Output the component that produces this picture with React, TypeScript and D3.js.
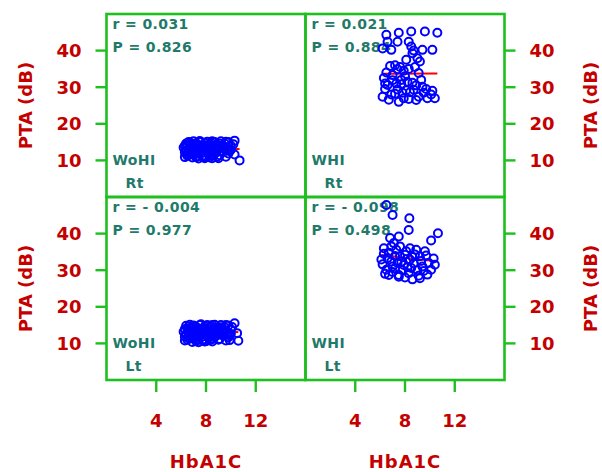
import { useEffect, useRef } from 'react';
import * as d3 from 'd3';

// tick labels
const hba1cTicks = [4, 8, 12];
const ptaTicks = [10, 20, 30, 40];

// [HbA1C, PTA] per panel
const wohiRt: [number, number][] = [
  [6.2, 13.5], [6.3, 12.2], [6.4, 14.6], [6.5, 11.3], [6.6, 13.0], [6.7, 14.9], [6.8, 12.0], [6.9, 10.8],
  [7.0, 13.8], [7.0, 15.2], [7.1, 11.6], [7.2, 12.9], [7.3, 14.3], [7.4, 10.5], [7.5, 12.4], [7.6, 13.6],
  [7.6, 15.0], [7.7, 11.2], [7.8, 14.1], [7.9, 12.7], [8.0, 10.9], [8.0, 13.3], [8.1, 15.1], [8.2, 11.8],
  [8.3, 14.5], [8.4, 12.6], [8.5, 10.6], [8.6, 13.9], [8.7, 15.0], [8.8, 12.1], [8.9, 14.2], [9.0, 13.0],
  [9.1, 11.4], [9.2, 15.2], [9.3, 13.7], [9.4, 12.3], [9.5, 14.6], [9.6, 11.0], [9.7, 13.2], [9.8, 15.0],
  [9.9, 12.5], [10.0, 14.0], [10.3, 15.4], [10.3, 11.6], [10.7, 10.0], [6.5, 14.0], [7.2, 10.9],
  [7.9, 14.8], [8.4, 11.3], [6.9, 12.6], [7.4, 13.9], [9.0, 10.6],
  [6.3, 10.9], [6.4, 12.8], [6.6, 15.0], [6.7, 11.6], [6.8, 13.5], [6.9, 14.3], [7.1, 12.2], [7.2, 14.7],
  [7.3, 11.1], [7.5, 13.0], [7.5, 15.3], [7.7, 12.0], [7.8, 13.2], [7.9, 10.6], [8.1, 12.3], [8.2, 14.0],
  [8.3, 10.8], [8.5, 12.0], [8.5, 15.2], [8.6, 11.4], [8.8, 13.5], [8.9, 11.0], [9.1, 14.6], [9.2, 12.4],
  [9.5, 13.0], [9.6, 15.1], [9.8, 11.9], [10.0, 12.9], [6.6, 11.5], [7.0, 12.5], [7.4, 12.0], [7.8, 11.0],
  [8.2, 13.0], [8.7, 12.8], [9.0, 14.1], [9.4, 14.0], [10.2, 14.4], [6.3, 14.0], [7.1, 13.3], [8.4, 14.8],
];

const whiRt: [number, number][] = [
  [6.5, 44.3], [7.5, 44.9], [8.5, 45.2], [9.6, 45.2], [10.6, 44.9], [6.6, 42.4], [6.2, 40.6], [7.4, 42.4],
  [6.9, 40.2], [8.3, 42.4], [8.5, 41.1], [8.6, 39.3], [9.4, 40.2], [10.2, 40.2], [9.0, 37.9], [9.2, 37.0],
  [8.7, 40.0], [6.8, 35.8], [8.3, 35.0], [9.1, 33.9], [6.3, 32.5], [7.0, 33.3], [7.7, 32.0], [8.0, 33.0],
  [8.6, 31.2], [9.4, 30.1], [6.6, 30.6], [7.4, 29.4], [8.1, 29.2], [6.2, 27.4], [6.7, 26.6], [7.5, 26.0],
  [8.3, 26.8], [9.1, 27.4], [9.8, 27.0], [10.4, 27.0], [10.1, 28.0], [9.5, 28.5], [8.4, 28.6], [7.2, 28.2],
  [6.4, 29.5], [7.7, 30.8], [7.9, 34.5], [7.4, 34.9], [8.7, 29.3], [7.0, 31.9],
  [6.4, 31.0], [6.9, 28.0], [7.3, 31.0], [7.8, 28.5], [8.2, 31.5], [8.9, 30.5], [9.3, 32.0], [9.7, 29.5],
  [10.2, 29.0], [6.5, 34.0], [7.6, 35.5], [8.8, 35.5], [7.9, 27.0], [8.9, 26.5], [7.2, 36.0], [8.1, 37.5],
];

const wohiLt: [number, number][] = [
  [6.2, 13.2], [6.3, 11.9], [6.4, 14.8], [6.5, 11.0], [6.6, 12.8], [6.7, 15.1], [6.8, 11.8], [6.9, 10.4],
  [7.0, 13.6], [7.0, 14.9], [7.1, 11.3], [7.2, 12.6], [7.3, 14.2], [7.4, 10.3], [7.5, 12.2], [7.6, 13.5],
  [7.6, 15.2], [7.7, 10.9], [7.8, 14.0], [7.9, 12.4], [8.0, 10.6], [8.0, 13.1], [8.1, 15.0], [8.2, 11.6],
  [8.3, 14.4], [8.4, 12.3], [8.6, 13.8], [8.7, 15.1], [8.8, 12.0], [8.9, 14.3], [9.0, 12.8], [9.1, 11.2],
  [9.2, 15.0], [9.3, 13.5], [9.4, 12.1], [9.5, 14.4], [9.6, 10.8], [9.7, 13.0], [9.8, 14.9], [9.9, 12.2],
  [10.0, 13.8], [10.3, 15.5], [10.5, 12.8], [10.6, 10.7], [9.9, 10.9], [6.5, 14.0], [7.2, 10.6],
  [7.9, 14.7], [8.4, 11.1], [6.9, 12.5], [7.4, 13.8], [8.5, 10.5],
  [6.3, 10.8], [6.4, 12.5], [6.6, 14.6], [6.7, 11.4], [6.8, 13.3], [6.9, 14.2], [7.1, 12.0], [7.2, 14.5],
  [7.3, 11.0], [7.5, 13.0], [7.5, 15.0], [7.7, 11.8], [7.8, 13.0], [7.9, 10.5], [8.1, 12.2], [8.2, 13.9],
  [8.3, 10.9], [8.5, 12.0], [8.5, 15.0], [8.6, 11.3], [8.8, 13.4], [9.0, 11.0], [9.1, 14.4], [9.2, 12.4],
  [9.5, 12.9], [9.6, 15.0], [9.8, 11.7], [10.0, 12.6], [6.6, 11.4], [7.0, 12.4], [7.4, 11.9], [7.8, 11.0],
  [8.2, 12.9], [8.7, 12.7], [9.0, 14.0], [9.4, 13.9], [10.1, 14.5], [6.3, 13.9], [7.1, 13.2], [8.4, 14.7],
];

const whiLt: [number, number][] = [
  [6.5, 47.8], [7.0, 45.1], [8.35, 44.2], [8.3, 41.0], [10.65, 40.1], [10.1, 38.1], [6.8, 38.8], [7.5, 39.2],
  [7.1, 37.4], [6.3, 36.0], [6.7, 34.8], [7.3, 35.6], [8.1, 35.2], [8.9, 35.6], [9.6, 35.2], [10.3, 33.2],
  [6.2, 31.6], [6.9, 32.4], [7.6, 33.8], [8.4, 32.9], [9.2, 33.8], [9.9, 32.0], [6.5, 30.1], [7.2, 30.5],
  [7.9, 31.4], [8.7, 31.9], [9.4, 31.0], [10.1, 30.1], [6.7, 28.7], [7.5, 28.7], [8.3, 29.2], [9.1, 28.5],
  [7.7, 32.3], [8.0, 34.2], [7.2, 33.9], [8.5, 30.6], [6.1, 32.9], [8.8, 34.3], [9.2, 27.8], [7.5, 28.2],
  [9.7, 34.0], [6.3, 34.5],
  [6.6, 33.3], [7.0, 31.0], [7.4, 32.0], [7.8, 30.0], [8.2, 30.8], [8.6, 33.6], [9.0, 30.0], [9.3, 32.5],
  [9.8, 28.8], [7.0, 29.5], [8.0, 28.0], [8.6, 27.5], [7.6, 36.5], [8.4, 36.0], [6.9, 36.5], [9.5, 29.8],
  [10.4, 31.5], [6.4, 29.0],
];

const groups = ['WoHI', 'WHI'];
const ears = ['Rt', 'Lt'];
const rLabels = [['r = 0.031', 'r = 0.021'], ['r = - 0.004', 'r = - 0.098']];
const pLabels = [['P = 0.826', 'P = 0.884'], ['P = 0.977', 'P = 0.498']];
const panelData = [[wohiRt, whiRt], [wohiLt, whiLt]];

const W = 602;
const H = 472;
const left = 106.5;
const top = 14;
const panelW = 199;
const panelH = 183;

const green = '#1fbf1f';
const red = '#c40000';
const teal = '#1f7a6a';
const font = '"DejaVu Sans", Verdana, sans-serif';

const App = () => {
  const svgRef = useRef<SVGSVGElement>(null);

  useEffect(() => {
    const svg = d3.select(svgRef.current);
    svg.selectAll('*').remove();

    const x = d3.scaleLinear().domain([0, 16]).range([0, panelW]);
    const y = d3.scaleLinear().domain([0, 50]).range([panelH, 0]);

    for (let row = 0; row < 2; row++) {
      for (let col = 0; col < 2; col++) {
        const g = svg.append('g')
          .attr('transform', `translate(${left + col * panelW},${top + row * panelH})`);
        const pts = panelData[row][col];

        // annotations (points are drawn over them)
        const txt = g.append('g')
          .attr('fill', teal)
          .attr('font-family', font)
          .attr('font-weight', 'bold')
          .attr('font-size', 14)
          .attr('letter-spacing', 0.4);
        txt.append('text').attr('x', 6).attr('y', 15).text(rLabels[row][col]);
        txt.append('text').attr('x', 6).attr('y', 38).text(pLabels[row][col]);
        txt.append('text').attr('x', 6).attr('y', 151).text(groups[col]);
        txt.append('text').attr('x', 19).attr('y', 174).text(ears[row]);

        // least squares line
        const mx = d3.mean(pts, d => d[0]) as number;
        const my = d3.mean(pts, d => d[1]) as number;
        const sxy = d3.sum(pts, d => (d[0] - mx) * (d[1] - my));
        const sxx = d3.sum(pts, d => (d[0] - mx) ** 2);
        const b = sxy / sxx;
        const [x0, x1] = d3.extent(pts, d => d[0]) as [number, number];
        g.append('line')
          .attr('x1', x(x0)).attr('y1', y(my + b * (x0 - mx)))
          .attr('x2', x(x1)).attr('y2', y(my + b * (x1 - mx)))
          .attr('stroke', '#ff0000')
          .attr('stroke-width', 2);

        g.selectAll('circle')
          .data(pts)
          .enter()
          .append('circle')
          .attr('cx', d => x(d[0]))
          .attr('cy', d => y(d[1]))
          .attr('r', 4)
          .attr('fill', 'none')
          .attr('stroke', '#0000ff')
          .attr('stroke-width', 2);

        g.append('rect')
          .attr('width', panelW)
          .attr('height', panelH)
          .attr('fill', 'none')
          .attr('stroke', green)
          .attr('stroke-width', 2.6);

        // y axis ticks: left on column 0, right on column 1
        const side = col === 0 ? -1 : 1;
        const xEdge = col === 0 ? 0 : panelW;
        ptaTicks.forEach(t => {
          g.append('line')
            .attr('x1', xEdge).attr('x2', xEdge + side * 11)
            .attr('y1', y(t)).attr('y2', y(t))
            .attr('stroke', green).attr('stroke-width', 2.4);
          g.append('text')
            .attr('x', xEdge + side * 25)
            .attr('y', y(t) + 6.5)
            .attr('text-anchor', col === 0 ? 'end' : 'start')
            .attr('fill', red)
            .attr('font-family', font)
            .attr('font-weight', 'bold')
            .attr('font-size', 18)
            .text(t);
        });

        g.append('text')
          .attr('transform', `translate(${col === 0 ? -81 : panelW + 86},${panelH / 2}) rotate(-90)`)
          .attr('text-anchor', 'middle')
          .attr('dy', '0.35em')
          .attr('fill', red)
          .attr('font-family', font)
          .attr('font-weight', 'bold')
          .attr('font-size', 18)
          .text('PTA (dB)');

        if (row === 1) {
          hba1cTicks.forEach(t => {
            g.append('line')
              .attr('x1', x(t)).attr('x2', x(t))
              .attr('y1', panelH).attr('y2', panelH + 12)
              .attr('stroke', green).attr('stroke-width', 2.4);
            g.append('text')
              .attr('x', x(t))
              .attr('y', panelH + 47)
              .attr('text-anchor', 'middle')
              .attr('fill', red)
              .attr('font-family', font)
              .attr('font-weight', 'bold')
              .attr('font-size', 18)
              .text(t);
          });
          g.append('text')
            .attr('x', x(8))
            .attr('y', panelH + 88)
            .attr('text-anchor', 'middle')
            .attr('fill', red)
            .attr('font-family', font)
            .attr('font-weight', 'bold')
            .attr('font-size', 18)
            .attr('letter-spacing', 1)
            .text('HbA1C');
        }
      }
    }
  }, []);

  return (
    <svg
      ref={svgRef}
      width={W}
      height={H}
      style={{ position: 'absolute', left: 0, top: 0, background: '#fff' }}
    />
  );
};

export default App;
